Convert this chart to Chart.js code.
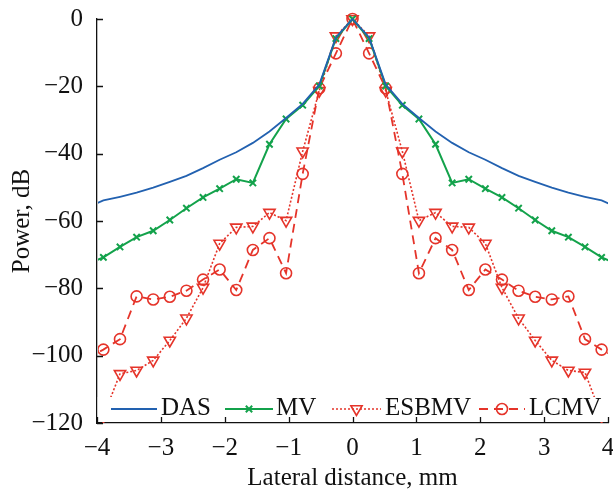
<!DOCTYPE html>
<html>
<head>
<meta charset="utf-8">
<script src="https://cdn.jsdelivr.net/npm/chart.js@4.4.1/dist/chart.umd.min.js"></script>
<style>
  html, body { margin: 0; padding: 0; background: #fff; }
</style>
</head>
<body>
<canvas id="beamChart" width="613" height="493"></canvas>
<script>
// lateral positions, mm (step 0.26, the outer two fall just outside the axis)
const lateral = [-4.16, -3.90, -3.64, -3.38, -3.12, -2.86, -2.60, -2.34, -2.08, -1.82, -1.56,
  -1.30, -1.04, -0.78, -0.52, -0.26, 0, 0.26, 0.52, 0.78, 1.04, 1.30, 1.56, 1.82, 2.08,
  2.34, 2.60, 2.86, 3.12, 3.38, 3.64, 3.90, 4.16];

// power, dB
const dasPower = [-56.0, -53.9, -52.8, -51.6, -50.1, -48.4, -46.6, -44.3, -41.8, -39.6, -36.8,
  -33.4, -29.4, -25.2, -19.5, -5.5, 0, -5.5, -19.5, -25.2, -29.4, -33.4, -36.8, -39.6, -41.8,
  -44.3, -46.6, -48.4, -50.1, -51.6, -52.8, -53.9, -56.0];
const mvPower = [-72.9, -70.8, -67.7, -64.8, -62.9, -59.7, -56.2, -53.0, -50.4, -47.6, -48.7,
  -37.2, -29.7, -25.6, -19.9, -5.8, 0, -5.8, -19.9, -25.6, -29.7, -37.2, -48.7, -47.6, -50.4,
  -53.0, -56.2, -59.7, -62.9, -64.8, -67.7, -70.8, -72.9];
const esbmvPower = [null, -118, -105.4, -104.4, -101.4, -95.5, -88.9, -79.8, -66.7, -61.9, -61.6,
  -57.5, -59.9, -39.3, -21.3, -5.1, 0, -5.1, -21.3, -39.3, -59.9, -57.5, -61.6, -61.9, -66.7,
  -79.8, -88.9, -95.5, -101.4, -104.4, -105.0, -118, null];
const lcmvPower = [-100.8, -98.2, -95.1, -82.4, -83.3, -82.5, -80.7, -77.4, -74.4, -80.5, -68.6,
  -65.1, -75.5, -46.0, -20.6, -10.2, 0, -10.2, -20.6, -46.0, -75.5, -65.1, -68.6, -80.5, -74.4,
  -77.4, -80.7, -82.5, -83.3, -82.4, -95.1, -98.2, -100.8];

const xTicks = [-4, -3, -2, -1, 0, 1, 2, 3, 4];
const yTicks = [-120, -100, -80, -60, -40, -20, 0];

const BLUE = '#2261b0';
const GREEN = '#13a24b';
const RED = '#e5342a';
const FONT = 'Liberation Serif';

function toPoints(ys) {
  return lateral.map((x, i) => ({ x: x, y: ys[i] }));
}
function minus(v) {
  return v < 0 ? '\u2212' + Math.abs(v) : String(v);
}
// keep the plot box fixed: no extra room for overhanging end labels
function noOverhang(s) {
  s.paddingLeft = 0;
  s.paddingRight = 0;
  s.paddingTop = 0;
  s.paddingBottom = 0;
}

// legend sits inside the plot, on a white strip above the x axis
const innerLegend = {
  id: 'innerLegend',
  afterDatasetsDraw(chart) {
    const ctx = chart.ctx;
    const area = chart.chartArea;
    const spots = [
      { x0: 111, x1: 157, tx: 161 },
      { x0: 225, x1: 273, tx: 276 },
      { x0: 332, x1: 381, tx: 385 },
      { x0: 479, x1: 525, tx: 529 }
    ];
    const ly = 409;
    ctx.save();
    ctx.fillStyle = '#fff';
    ctx.fillRect(area.left + 0.7, 397, area.right - area.left - 0.7, area.bottom - 398);
    chart.data.datasets.forEach((ds, i) => {
      const s = spots[i];
      ctx.strokeStyle = ds.borderColor;
      ctx.lineWidth = ds.borderWidth;
      ctx.setLineDash(ds.borderDash || []);
      ctx.beginPath();
      ctx.moveTo(s.x0, ly);
      ctx.lineTo(s.x1, ly);
      ctx.stroke();
      ctx.setLineDash([]);
      if (ds.pointRadius > 0) {
        ctx.fillStyle = ds.pointBackgroundColor;
        ctx.strokeStyle = ds.pointBorderColor;
        ctx.lineWidth = ds.pointBorderWidth;
        Chart.helpers.drawPoint(ctx, {
          pointStyle: ds.pointStyle,
          radius: ds.pointRadius,
          rotation: ds.pointRotation || 0,
          borderWidth: ds.pointBorderWidth
        }, (s.x0 + s.x1) / 2, ly);
      }
      ctx.fillStyle = '#111';
      ctx.font = '25px "' + FONT + '"';
      ctx.textBaseline = 'alphabetic';
      ctx.textAlign = 'left';
      ctx.fillText(ds.label, s.tx, 415);
    });
    ctx.restore();
  },
  // tick marks point into the plot
  afterDraw(chart) {
    const ctx = chart.ctx;
    const xs = chart.scales.x;
    const ys = chart.scales.y;
    const area = chart.chartArea;
    ctx.save();
    ctx.strokeStyle = '#111';
    ctx.lineWidth = 1.3;
    ctx.beginPath();
    xTicks.forEach(v => {
      const px = Math.round(xs.getPixelForValue(v)) + 0.5;
      ctx.moveTo(px, area.bottom);
      ctx.lineTo(px, area.bottom - 6);
    });
    yTicks.forEach(v => {
      const py = Math.round(ys.getPixelForValue(v)) + 0.5;
      ctx.moveTo(area.left, py);
      ctx.lineTo(area.left + 6, py);
    });
    ctx.stroke();
    ctx.restore();
  }
};

new Chart(document.getElementById('beamChart'), {
  type: 'line',
  data: {
    datasets: [
      {
        label: 'DAS',
        data: toPoints(dasPower),
        borderColor: BLUE,
        borderWidth: 1.8,
        pointRadius: 0,
        tension: 0
      },
      {
        label: 'MV',
        data: toPoints(mvPower),
        borderColor: GREEN,
        borderWidth: 2,
        pointStyle: 'crossRot',
        pointRadius: 4.5,
        pointBorderColor: GREEN,
        pointBackgroundColor: GREEN,
        pointBorderWidth: 2,
        tension: 0
      },
      {
        label: 'ESBMV',
        data: toPoints(esbmvPower),
        borderColor: RED,
        borderWidth: 1.6,
        borderDash: [2, 2],
        pointStyle: 'triangle',
        pointRotation: 180,
        pointRadius: 6.5,
        pointBorderColor: RED,
        pointBackgroundColor: 'rgba(0,0,0,0)',
        pointBorderWidth: 1.6,
        tension: 0
      },
      {
        label: 'LCMV',
        data: toPoints(lcmvPower),
        borderColor: RED,
        borderWidth: 1.8,
        borderDash: [9, 6],
        pointStyle: 'circle',
        pointRadius: 5.5,
        pointBorderColor: RED,
        pointBackgroundColor: 'rgba(0,0,0,0)',
        pointBorderWidth: 1.6,
        tension: 0
      }
    ]
  },
  options: {
    responsive: false,
    animation: false,
    devicePixelRatio: 1,
    clip: { left: -1, right: 0, top: 10, bottom: 0 },
    layout: { autoPadding: false, padding: { top: 19, right: 5, left: 0, bottom: 0 } },
    plugins: {
      legend: { display: false },
      tooltip: { enabled: false }
    },
    scales: {
      x: {
        type: 'linear',
        min: -4,
        max: 4,
        afterFit: s => { s.height = 70; noOverhang(s); },
        afterBuildTicks: s => { s.ticks = xTicks.map(v => ({ value: v })); },
        grid: { display: true, drawOnChartArea: false, drawTicks: false },
        border: { color: '#111', width: 1.3 },
        ticks: {
          padding: 10,
          color: '#111',
          font: { family: FONT, size: 25 },
          maxRotation: 0,
          callback: v => minus(v)
        },
        title: {
          display: true,
          text: 'Lateral distance, mm',
          color: '#111',
          font: { family: FONT, size: 25 },
          padding: { top: 0, bottom: 0 }
        }
      },
      y: {
        min: -120,
        max: 0,
        afterFit: s => { s.width = 97; noOverhang(s); },
        afterBuildTicks: s => { s.ticks = yTicks.map(v => ({ value: v })); },
        grid: { display: true, drawOnChartArea: false, drawTicks: false },
        border: { color: '#111', width: 1.3 },
        ticks: {
          padding: 14,
          color: '#111',
          font: { family: FONT, size: 25 },
          callback: v => minus(v)
        },
        title: {
          display: true,
          text: 'Power, dB',
          color: '#111',
          font: { family: FONT, size: 25 },
          padding: { top: 7, bottom: 0 }
        }
      }
    }
  },
  plugins: [innerLegend]
});
</script>
</body>
</html>
